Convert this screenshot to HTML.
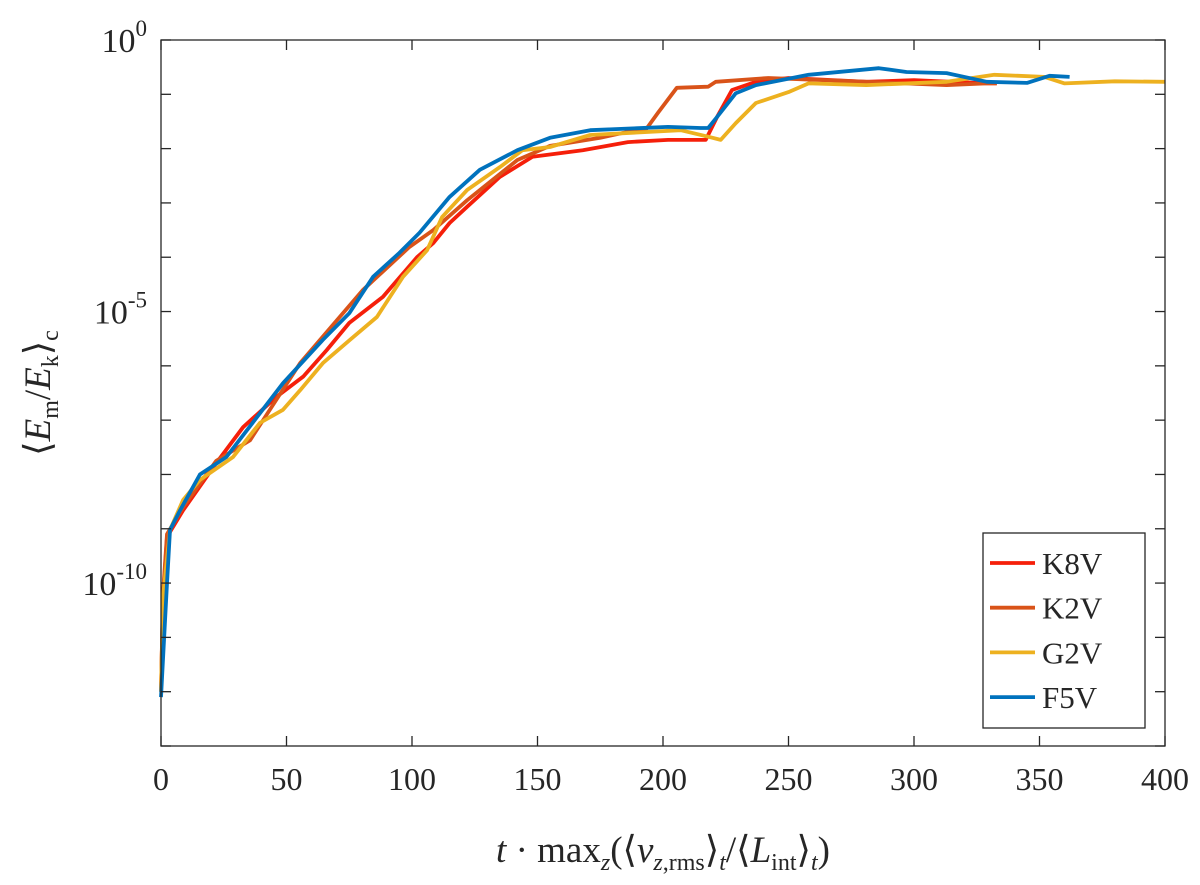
<!DOCTYPE html>
<html><head><meta charset="utf-8"><style>
body{margin:0;background:#fff;}
svg text{font-family:"Liberation Serif",serif;fill:#262626;}
</style></head><body>
<svg id="chart" width="1200" height="880" viewBox="0 0 1200 880"></svg>
<script>
const xTicks=[0,50,100,150,200,250,300,350,400];
const yTickExp=[0,-5,-10];
const seriesNames=["K8V","K2V","G2V","F5V"];
const seriesColors=["#f51f0a","#d95319","#edb120","#0072bd"];
const k8vX=[0,0.8,2.4,8.8,22,32.7,46,56.6,66,75,88.4,102,108.5,115,122,135,148,168,186,202,217,221.5,227.5,237,250,281,300,329,333];
const k8vY=[-12,-10.3,-9.15,-8.66,-7.79,-7.13,-6.57,-6.2,-5.71,-5.21,-4.73,-4.0,-3.74,-3.37,-3.07,-2.52,-2.15,-2.03,-1.88,-1.84,-1.84,-1.42,-0.92,-0.77,-0.70,-0.77,-0.74,-0.80,-0.80];
const k2vX=[0,0.8,2.4,8.8,22,35.5,55.4,80.5,99,108.5,122,142,155,175,186,193,198,205.5,218,221,242,281,313,329,333];
const k2vY=[-12,-10.2,-9.1,-8.6,-7.75,-7.37,-5.95,-4.6,-3.81,-3.5,-2.95,-2.21,-1.95,-1.8,-1.69,-1.66,-1.34,-0.88,-0.86,-0.77,-0.70,-0.77,-0.83,-0.80,-0.80];
const g2vX=[0,0.8,3.6,8.8,15.5,28.7,39.4,48.6,55.4,64.5,75.3,86,96.4,106,112,122,135,144,155,171,207,218,223,229,237,250,258,281,313,332,352,360,380,400];
const g2vY=[-12,-10.26,-9.02,-8.47,-8.1,-7.68,-7.05,-6.81,-6.45,-5.95,-5.52,-5.10,-4.36,-3.87,-3.26,-2.76,-2.34,-2.03,-1.97,-1.75,-1.66,-1.78,-1.84,-1.53,-1.16,-0.96,-0.80,-0.83,-0.77,-0.64,-0.68,-0.80,-0.76,-0.77];
const f5vX=[0,2.4,3.6,7.6,15.5,26,48.6,64.5,75,84.5,95,103,115,127,142,155,171,202,215,218,221.5,229,237,258,286,297,313,329,345,354,362];
const f5vY=[-12.1,-10,-9.02,-8.66,-8.0,-7.68,-6.32,-5.52,-5.03,-4.36,-3.92,-3.55,-2.89,-2.39,-2.03,-1.80,-1.66,-1.60,-1.62,-1.62,-1.42,-0.98,-0.83,-0.64,-0.52,-0.59,-0.61,-0.77,-0.79,-0.66,-0.68];
const allX=[k8vX,k2vX,g2vX,f5vX];
const allY=[k8vY,k2vY,g2vY,f5vY];

const NS="http://www.w3.org/2000/svg";
const svg=document.getElementById("chart");
const L=161,R=1165,T=40,B=746,yMin=-13,yMax=0,xMin=0,xMax=400;
const sx=v=>L+(v-xMin)/(xMax-xMin)*(R-L);
const sy=e=>B-(e-yMin)/(yMax-yMin)*(B-T);
function mk(tag,attrs,parent){const el=document.createElementNS(NS,tag);for(const k in attrs)el.setAttribute(k,attrs[k]);(parent||svg).appendChild(el);return el;}

const lines=mk("g",{});


for(let s=0;s<4;s++){
  const d=allX[s].map((x,i)=>(i?"L":"M")+sx(x).toFixed(1)+","+sy(allY[s][i]).toFixed(1)).join(" ");
  const p=mk("path",{d:d,fill:"none",stroke:seriesColors[s],"stroke-width":3.8,"stroke-linejoin":"round"},lines);
  
  
}
const box=mk("rect",{x:L,y:T,width:R-L,height:B-T,fill:"none",stroke:"#262626","stroke-width":1.3});


xTicks.forEach(t=>{
  const x=sx(t);
  mk("line",{x1:x,x2:x,y1:B,y2:B-10,stroke:"#262626","stroke-width":1.3});
  mk("line",{x1:x,x2:x,y1:T,y2:T+10,stroke:"#262626","stroke-width":1.3});
  const tx=mk("text",{x:x,y:B+44,"text-anchor":"middle","font-size":32});
  tx.textContent=t;
  
  
});
for(let e=yMin;e<=yMax;e++){
  const y=sy(e);
  mk("line",{x1:L,x2:L+10,y1:y,y2:y,stroke:"#262626","stroke-width":1.3});
  mk("line",{x1:R,x2:R-10,y1:y,y2:y,stroke:"#262626","stroke-width":1.3});
}
yTickExp.forEach(e=>{
  const y=sy(e);
  const tx=mk("text",{x:147,y:y+12,"text-anchor":"end","font-size":34});
  tx.innerHTML='10<tspan dy="-16" font-size="23">'+e+'</tspan>';
  
  
});
const lg=mk("g",{});


mk("rect",{x:983,y:533,width:162,height:195,fill:"#fff",stroke:"#262626","stroke-width":1.3},lg);
seriesNames.forEach((n,i)=>{
  const y=563+i*44.7;
  const g=mk("g",{},lg);
  
  
  mk("line",{x1:990,x2:1035,y1:y,y2:y,stroke:seriesColors[i],"stroke-width":3.8},g);
  const t=mk("text",{x:1042,y:y+11,"font-size":31},g);
  t.textContent=n;
});
const xt=mk("text",{x:663,y:862,"text-anchor":"middle","font-size":37});
xt.innerHTML='<tspan font-style="italic">t</tspan> · max<tspan font-size="24" dy="8" font-style="italic">z</tspan><tspan dy="-8">(⟨</tspan><tspan font-style="italic">v</tspan><tspan font-size="24" dy="8"><tspan font-style="italic">z</tspan>,rms</tspan><tspan dy="-8">⟩</tspan><tspan font-size="24" dy="8" font-style="italic">t</tspan><tspan dy="-8">/⟨</tspan><tspan font-style="italic">L</tspan><tspan font-size="24" dy="8">int</tspan><tspan dy="-8">⟩</tspan><tspan font-size="24" dy="8" font-style="italic">t</tspan><tspan dy="-8">)</tspan>';


const yt=mk("text",{x:0,y:0,"text-anchor":"middle","font-size":37,transform:"translate(50,393) rotate(-90)"});
yt.innerHTML='⟨<tspan font-style="italic">E</tspan><tspan font-size="24" dy="8">m</tspan><tspan dy="-8">/</tspan><tspan font-style="italic">E</tspan><tspan font-size="24" dy="8">k</tspan><tspan dy="-8">⟩</tspan><tspan font-size="24" dy="8">c</tspan>';


</script>
</body></html>
